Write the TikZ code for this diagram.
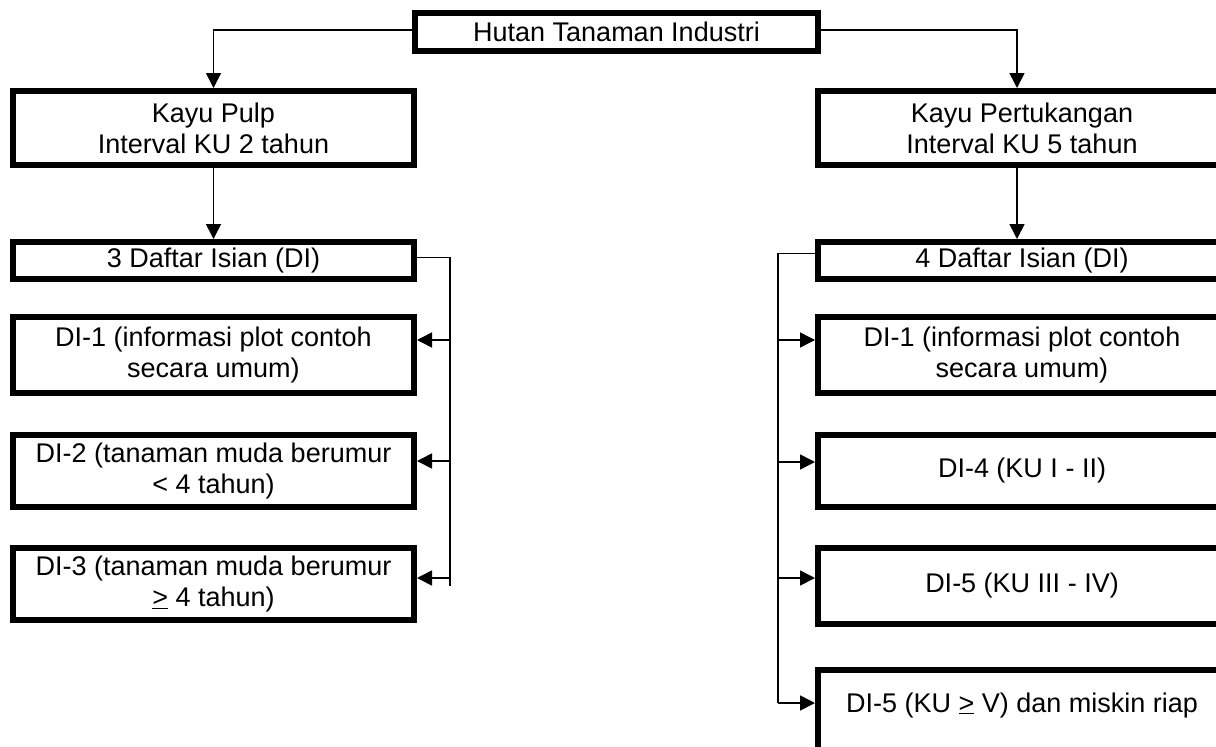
\documentclass[tikz,border=0pt]{standalone}
\usepackage{fontspec}
\setmainfont{Liberation Sans}
\usetikzlibrary{arrows.meta}
\begin{document}
\begin{tikzpicture}[x=1pt,y=-1pt,
  box/.style={draw=black,line width=6pt,fill=white,inner sep=0pt,align=center,
    font=\fontsize{27}{31}\selectfont},
  lbox/.style={box,minimum width=401pt},
  rbox/.style={box,minimum width=408pt},
  link/.style={line width=1.6pt},
  linkarrow/.style={link,-{Triangle[length=15pt,width=15pt]}}]
\useasboundingbox (0,0) rectangle (1216,747);
\clip (0,0) rectangle (1216,747);
\fill[white] (0,0) rectangle (1216,747);

% top level
\node[box,minimum width=403pt,minimum height=38pt] (hti) at (616.5,32) {Hutan Tanaman Industri};

% left branch: pulp wood
\node[lbox,minimum height=74pt] (pulp) at (213.5,128) {Kayu Pulp\\Interval KU 2 tahun};
\node[lbox,minimum height=37pt] (dl) at (213.5,260.5) {\raisebox{1pt}{3 Daftar Isian (DI)}};
\node[lbox,minimum height=76pt] (la) at (213.5,355) {DI-1 (informasi plot contoh\\secara umum)};
\node[lbox,minimum height=72pt] (lb) at (213.5,471) {DI-2 (tanaman muda berumur\\< 4 tahun)};
\node[lbox,minimum height=72pt] (lc) at (213.5,584) {DI-3 (tanaman muda berumur\\\underline{>} 4 tahun)};

% right branch: timber wood
\node[rbox,minimum height=74pt] (pert) at (1022,128) {Kayu Pertukangan\\Interval KU 5 tahun};
\node[rbox,minimum height=37pt] (dr) at (1022,260.5) {\raisebox{1pt}{4 Daftar Isian (DI)}};
\node[rbox,minimum height=76pt] (ra) at (1022,355) {DI-1 (informasi plot contoh\\secara umum)};
\node[rbox,minimum height=72pt] (rb) at (1022,471) {DI-4 (KU I - II)};
\node[rbox,minimum height=76pt] (rc) at (1022,586) {DI-5 (KU III - IV)};
\node[rbox,minimum height=86pt] (rd) at (1022,713)
  {\raisebox{1pt}[0pt][0pt]{DI-5 (KU \underline{>} V) dan miskin riap}};

% bracket rails
\coordinate (lrail) at (450,0);
\coordinate (rrail) at (778,0);

% top split
\draw[linkarrow] ([yshift=2pt]hti.west) -| (pulp.north);
\draw[linkarrow] ([yshift=2pt]hti.east) -| (pert.north -| 1017,0);
\draw[linkarrow] (pulp.south) -- (dl.north);
\draw[linkarrow] (pert.south -| 1017,0) -- (dr.north -| 1017,0);

% left bracket
\draw[link] ([yshift=3pt]dl.east) -| ([yshift=-2pt]lrail |- lc.east);
\draw[linkarrow] ([yshift=15pt]lrail |- la.east) -- ([yshift=15pt]la.east);
\draw[linkarrow] ([yshift=10pt]lrail |- lb.east) -- ([yshift=10pt]lb.east);
\draw[linkarrow] ([yshift=6pt]lrail |- lc.east) -- ([yshift=6pt]lc.east);

% right bracket
\draw[link] ([yshift=7pt]dr.west) -| ([yshift=10pt]rrail |- rd.west);
\draw[linkarrow] ([yshift=15pt]rrail |- ra.west) -- ([yshift=15pt]ra.west);
\draw[linkarrow] ([yshift=9pt]rrail |- rb.west) -- ([yshift=9pt]rb.west);
\draw[linkarrow] ([yshift=8pt]rrail |- rc.west) -- ([yshift=8pt]rc.west);
\draw[linkarrow] ([yshift=10pt]rrail |- rd.west) -- ([yshift=10pt]rd.west);
\end{tikzpicture}
\end{document}
